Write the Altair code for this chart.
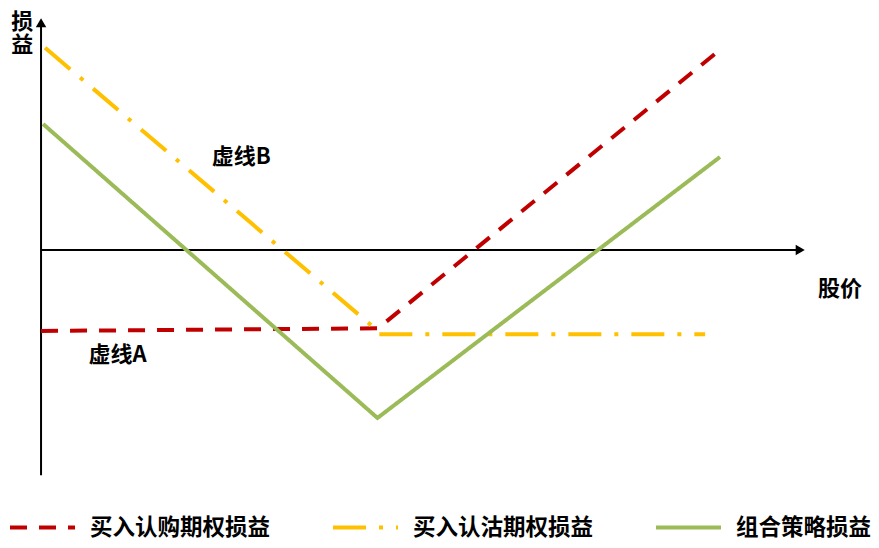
import altair as alt
import pandas as pd

FONT = "Noto Sans CJK SC"

series = ["买入认购期权损益", "买入认沽期权损益", "组合策略损益"]
colors = ["#C00000", "#FFC000", "#9BBB59"]
dashes = [[17, 12], [33, 13, 4, 13], [1, 0]]

# payoff lines (price, P&L)
call_x = [0, 50, 100.7]
call_y = [-12.0, -11.6, 29.7]
put_x = [0.6, 49.5, 50, 98.5]
put_y = [30.0, -11.6, -12.5, -12.5]
combo_x = [0.3, 49.9, 100.7]
combo_y = [18.7, -24.9, 13.8]

rows = []
for name, xs, ys in zip(series, [call_x, put_x, combo_x], [call_y, put_y, combo_y]):
    for i, (a, b) in enumerate(zip(xs, ys)):
        rows.append({"price": a, "pnl": b, "series": name, "order": i})
lines_df = pd.DataFrame(rows)

# axis lines with arrows
axis_df = pd.DataFrame({
    "x": [0, 0], "y": [-33.4, 0], "x2": [0, 112.6], "y2": [33.7, 0]
})
arrow_df = pd.DataFrame({
    "x": [0, 112.6], "y": [33.7, 0], "shape": ["triangle-up", "triangle-right"]
})

# annotations (y-axis title is stacked one char per row)
labels = ["虚线B", "虚线A", "股价", "损", "益"]
label_x = [29.7, 11.35, 118.5, -2.8, -2.8]
label_y = [13.8, -15.6, -5.8, 33.8, 30.4]
label_df = pd.DataFrame({"text": labels, "x": label_x, "y": label_y})

xs = alt.Scale(domain=[-4.9, 123.1], nice=False, zero=False)
ys = alt.Scale(domain=[-43.0, 35.9], nice=False, zero=False)

lines = alt.Chart(lines_df).mark_line(strokeWidth=4, strokeCap="butt").encode(
    x=alt.X("price:Q", scale=xs, axis=None),
    y=alt.Y("pnl:Q", scale=ys, axis=None),
    color=alt.Color("series:N", scale=alt.Scale(domain=series, range=colors), title=None),
    strokeDash=alt.StrokeDash("series:N", scale=alt.Scale(domain=series, range=dashes), title=None),
    order="order:Q",
)

axes = alt.Chart(axis_df).mark_rule(color="black", strokeWidth=2).encode(
    x=alt.X("x:Q", scale=xs, axis=None),
    y=alt.Y("y:Q", scale=ys, axis=None),
    x2="x2:Q",
    y2="y2:Q",
)

arrows = alt.Chart(arrow_df).mark_point(filled=True, color="black", size=110, opacity=1).encode(
    x=alt.X("x:Q", scale=xs, axis=None),
    y=alt.Y("y:Q", scale=ys, axis=None),
    shape=alt.Shape("shape:N", scale=None),
)

texts = alt.Chart(label_df).mark_text(
    font=FONT, fontSize=22, fontWeight="bold", color="black",
    align="center", baseline="middle",
).encode(
    x=alt.X("x:Q", scale=xs, axis=None),
    y=alt.Y("y:Q", scale=ys, axis=None),
    text="text:N",
)

chart = alt.layer(axes, arrows, lines, texts).properties(
    width=863, height=532, padding=0,
    autosize=alt.AutoSizeParams(type="none"),
).configure_view(stroke=None).configure_legend(
    orient="none", legendX=0, legendY=485, direction="horizontal", symbolType="stroke",
    symbolSize=4225, symbolStrokeWidth=4, labelFont=FONT, labelFontSize=22.5,
    labelFontWeight="bold", labelColor="black", labelLimit=400,
    labelOffset=13, columnPadding=54, padding=0,
)

chart.save("out.html", embed_options={"renderer": "svg", "actions": False})
